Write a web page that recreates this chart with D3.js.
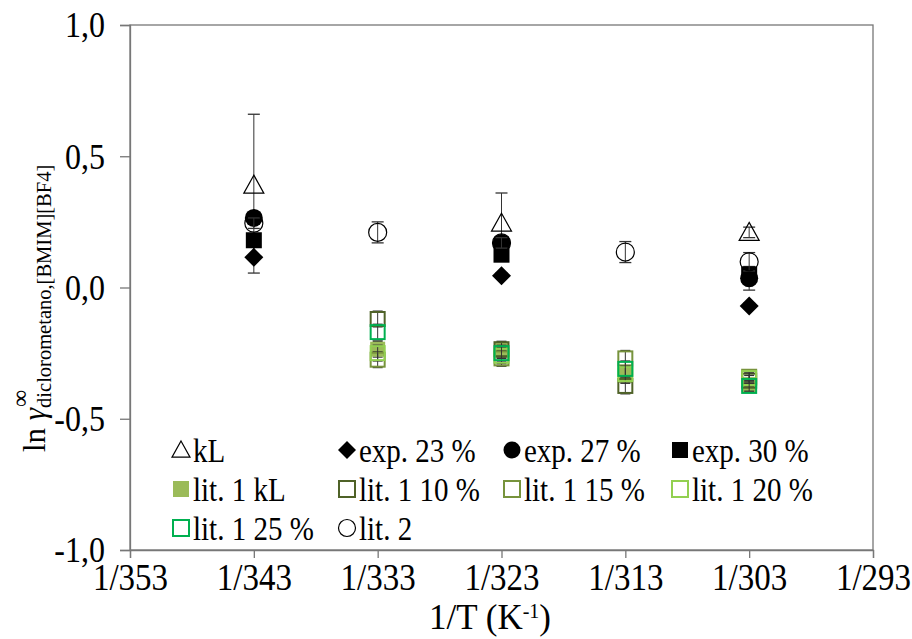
<!DOCTYPE html>
<html>
<head>
<meta charset="utf-8">
<script src="https://cdn.jsdelivr.net/npm/d3@7"></script>
<style>
  body { margin: 0; background: #fff; }
  svg { display: block; }
  text { font-family: "Liberation Serif", "Times New Roman", serif; fill: #000; }
  .tall { transform-box: fill-box; transform-origin: center; transform: scaleY(1.15); }
</style>
</head>
<body>
<svg id="chart" width="912" height="639"></svg>
<script>
// ---- data ----
const tickTemps = [353, 343, 333, 323, 313, 303, 293];
const yTicks = [-1.0, -0.5, 0.0, 0.5, 1.0];

const kLTemps = [343, 323, 303];
const kLValues = [0.39, 0.245, 0.21];
const kLErr = [0.27, 0.115, 0.02];

const exp23Temps = [343, 323, 303];
const exp23Values = [0.115, 0.045, -0.07];
const exp23Err = [0.06, 0.01, 0.01];

const exp27Temps = [343, 323, 303];
const exp27Values = [0.265, 0.17, 0.035];
const exp27Err = [0.01, 0.01, 0.045];

const exp30Temps = [343, 323, 303];
const exp30Values = [0.18, 0.125, 0.05];
const exp30Err = [0.01, 0.01, 0.01];

const litTemps = [333, 323, 313, 303];
const lit1kLValues = [-0.235, -0.24, -0.335, -0.37];
const lit10Values = [-0.12, -0.235, -0.375, -0.355];
const lit15Values = [-0.275, -0.27, -0.27, -0.34];
const lit20Values = [-0.25, -0.26, -0.33, -0.345];
const lit25Values = [-0.17, -0.25, -0.31, -0.375];
const litErr = [0.03, 0.03, 0.03, 0.02];

const lit2Temps = [343, 333, 323, 313, 303];
const lit2Values = [0.245, 0.21, 0.17, 0.135, 0.098];
const lit2Err = [0.02, 0.04, 0.02, 0.04, 0.035];

// ---- layout ----
const svg = d3.select("#chart");
const L = 130, R = 873, T = 25, B = 550;
const x = d3.scaleLinear().domain([353, 293]).range([L, R]);
const y = d3.scaleLinear().domain([-1, 1]).range([B, T]);

const series = [
  { name: "kL", temps: kLTemps, values: kLValues, err: kLErr, shape: "triangle", fill: "none", stroke: "#000", size: 20, cap: 12 },
  { name: "exp. 23 %", temps: exp23Temps, values: exp23Values, err: exp23Err, shape: "diamond", fill: "#000", stroke: "none", size: 19, cap: 12 },
  { name: "exp. 27 %", temps: exp27Temps, values: exp27Values, err: exp27Err, shape: "circle", fill: "#000", stroke: "none", size: 19, cap: 12 },
  { name: "exp. 30 %", temps: exp30Temps, values: exp30Values, err: exp30Err, shape: "square", fill: "#000", stroke: "none", size: 16, cap: 12 },
  { name: "lit. 1 kL", temps: litTemps, values: lit1kLValues, err: litErr, shape: "square", fill: "#9bbb59", stroke: "none", size: 15, cap: 10 },
  { name: "lit. 1 10 %", temps: litTemps, values: lit10Values, err: litErr, shape: "square", fill: "none", stroke: "#4f6228", size: 14, cap: 10 },
  { name: "lit. 1 15 %", temps: litTemps, values: lit15Values, err: litErr, shape: "square", fill: "none", stroke: "#77933c", size: 14, cap: 10 },
  { name: "lit. 1 20 %", temps: litTemps, values: lit20Values, err: litErr, shape: "square", fill: "none", stroke: "#92d050", size: 14, cap: 10 },
  { name: "lit. 1 25 %", temps: litTemps, values: lit25Values, err: litErr, shape: "square", fill: "none", stroke: "#00b050", size: 14, cap: 10 },
  { name: "lit. 2", temps: lit2Temps, values: lit2Values, err: lit2Err, shape: "circle", fill: "none", stroke: "#000", size: 19, cap: 12 }
];

function drawMarker(g, s, cx, cy, size) {
  const h = size / 2;
  let el;
  if (s.shape === "circle") {
    el = g.append("circle").attr("cx", cx).attr("cy", cy).attr("r", h - 0.5);
  } else if (s.shape === "square") {
    el = g.append("rect").attr("x", cx - h).attr("y", cy - h).attr("width", size).attr("height", size);
  } else if (s.shape === "diamond") {
    el = g.append("path").attr("d", `M${cx},${cy - h}L${cx + h},${cy}L${cx},${cy + h}L${cx - h},${cy}Z`);
  } else if (s.shape === "triangle") {
    el = g.append("path").attr("d", `M${cx},${cy - h}L${cx + h},${cy + h * 0.8}L${cx - h},${cy + h * 0.8}Z`);
  }
  el.attr("fill", s.fill).attr("stroke", s.stroke === "none" ? "none" : s.stroke)
    .attr("stroke-width", s.shape === "square" && s.fill === "none" ? 2 : 1.2);
}

// ---- frame ----
svg.append("rect").attr("x", L).attr("y", T).attr("width", R - L).attr("height", B - T)
  .attr("fill", "none").attr("stroke", "#777").attr("stroke-width", 1.3);

// ---- axes ----
const yAxis = d3.axisLeft(y).tickValues(yTicks).tickSize(10).tickPadding(15)
  .tickFormat(d => d3.format(".1f")(d).replace(".", ",").replace("−", "-"));
const gy = svg.append("g").attr("transform", `translate(${L},0)`).call(yAxis);
gy.select(".domain").attr("stroke", "#777").attr("stroke-width", 1.3);
gy.selectAll(".tick line").attr("stroke", "#777").attr("stroke-width", 1.3);
gy.selectAll(".tick text").attr("font-size", 32).attr("font-family", "Liberation Serif").attr("fill", "#000").classed("tall", true);

const xAxis = d3.axisBottom(x).tickValues(tickTemps).tickSize(8).tickPadding(7)
  .tickFormat(d => "1/" + d);
const gx = svg.append("g").attr("transform", `translate(0,${B})`).call(xAxis);
gx.select(".domain").attr("stroke", "#777").attr("stroke-width", 1.3);
gx.selectAll(".tick line").attr("stroke", "#777").attr("stroke-width", 1.3);
gx.selectAll(".tick text").attr("font-size", 33).attr("font-family", "Liberation Serif").attr("fill", "#000").classed("tall", true);

// ---- error bars and markers ----
const plot = svg.append("g");
series.forEach(s => {
  const g = plot.append("g");
  s.temps.forEach((t, i) => {
    const v = s.values[i], e = s.err[i];
    const cx = x(t);
    const y1 = y(v + e), y2 = y(v - e);
    g.append("line").attr("x1", cx).attr("x2", cx).attr("y1", y1).attr("y2", y2)
      .attr("stroke", "#333").attr("stroke-width", 1);
    [y1, y2].forEach(yy => g.append("line").attr("x1", cx - s.cap / 2).attr("x2", cx + s.cap / 2)
      .attr("y1", yy).attr("y2", yy).attr("stroke", "#333").attr("stroke-width", 1.3));
  });
  s.temps.forEach((t, i) => drawMarker(g, s, x(t), y(s.values[i]), s.size));
});

// ---- legend ----
const legCols = [181, 347, 512, 680];
const legRows = [450, 489, 528];
const leg = svg.append("g");
series.forEach((s, i) => {
  const cx = legCols[i % 4], cy = legRows[Math.floor(i / 4)];
  let sz = s.shape === "square" ? 16 : 18;
  drawMarker(leg, s, cx, cy, sz);
  leg.append("text").attr("x", cx + 12).attr("y", cy).attr("dy", "0.35em")
    .attr("font-size", 29).attr("class", "tall").text(s.name);
});

// ---- axis titles ----
const xt = svg.append("text").attr("x", 490).attr("y", 629).attr("text-anchor", "middle").attr("font-size", 35);
xt.append("tspan").text("1/T (K");
xt.append("tspan").attr("font-size", 20).attr("dy", -11).text("-1");
xt.append("tspan").attr("dy", 11).text(")");

const yl = svg.append("g").attr("transform", "translate(45,452) rotate(-90)");
const ylt = yl.append("text").attr("x", 0).attr("y", 0).attr("font-size", 31);
ylt.append("tspan").text("ln ");
ylt.append("tspan").attr("font-style", "italic").text("γ");
ylt.append("tspan").attr("font-size", 20.5).attr("dy", 6).text("diclorometano,[BMIM][BF4]");
const pre = ylt.node().getSubStringLength(0, 4);
yl.append("text").attr("x", pre + 1).attr("y", -17).attr("font-size", 24).text("∞");
</script>
</body>
</html>
